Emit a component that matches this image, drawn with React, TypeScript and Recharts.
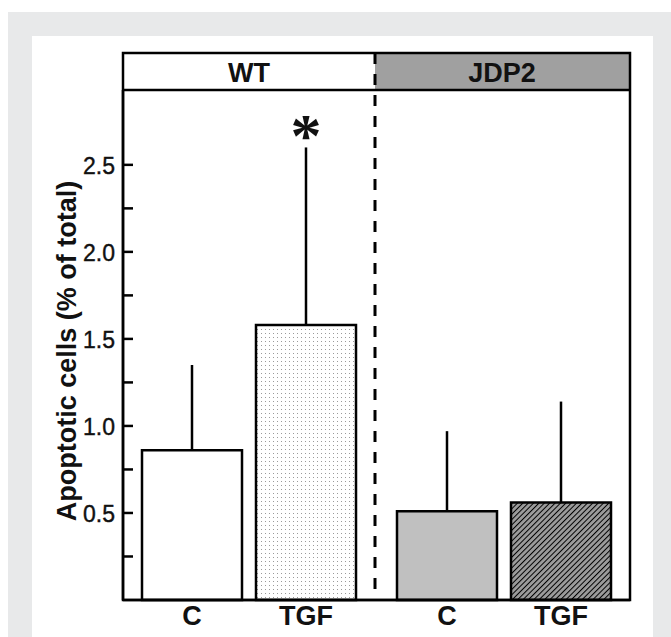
import React from 'react'
import { BarChart, Bar, XAxis, YAxis, ErrorBar, ReferenceDot, Cell } from 'recharts'

const groups = ['WT', 'JDP2']
const treatments = ['C', 'TGF']
const wtMeans = [0.86, 1.58]
const wtErrors = [0.49, 1.02]
const jdp2Means = [0.51, 0.56]
const jdp2Errors = [0.46, 0.58]
const wtStars = ['', '*']
const yTicks = [0.25, 0.5, 0.75, 1.0, 1.25, 1.5, 1.75, 2.0, 2.25, 2.5]
const yLabelTicks = [0.5, 1.0, 1.5, 2.0, 2.5]
const yMax = 2.93

const wtFills = ['#ffffff', 'url(#dots)']
const jdp2Fills = ['#c0c0c0', 'url(#hatch)']

const wtData = treatments.map((t, i) => ({ name: t, value: wtMeans[i], err: [0, wtErrors[i]] }))
const jdp2Data = treatments.map((t, i) => ({ name: t, value: jdp2Means[i], err: [0, jdp2Errors[i]] }))

const font = '"Liberation Sans", Arial, Helvetica, sans-serif'

const YTick = (props: any) => {
  const { x, y, payload } = props
  const v = payload.value
  return (
    <g>
      <line x1={x + 8} x2={x + 18} y1={y} y2={y} stroke="#000" strokeWidth={2.5} />
      {yLabelTicks.includes(v) && (
        <text x={x} y={y + 1} textAnchor="end" dominantBaseline="central" fontSize={23} fill="#111"
          stroke="#111" strokeWidth={0.4}>
          {v.toFixed(1)}
        </text>
      )}
    </g>
  )
}

const XTick = (props: any) => {
  const { x, y, payload } = props
  return (
    <text x={x} y={y + 25} textAnchor="middle" fontSize={27} fontWeight="bold" fill="#111">
      {payload.value}
    </text>
  )
}

const YLabel = (props: any) => {
  const vb = props.viewBox || { x: 0, y: 90, width: 123, height: 510 }
  const cx = vb.x + 67
  const cy = vb.y + vb.height / 2 + 6
  return (
    <text
      x={cx}
      y={cy}
      transform={`rotate(-90 ${cx} ${cy})`}
      textAnchor="middle"
      dominantBaseline="central"
      fontSize={27}
      fontWeight="bold"
      fill="#111"
    >
      Apoptotic cells (% of total)
    </text>
  )
}

const Star = (props: any) => (
  <text x={props.cx} y={props.cy + 9} textAnchor="middle" fontSize={62} fontWeight="bold"
    fontFamily='"Liberation Serif", "Times New Roman", serif' fill="#111">
    *
  </text>
)

export default function App() {
  return (
    <div style={{ position: 'absolute', left: 0, top: 0, width: 671, height: 637, background: '#fff', fontFamily: font }}>
      <svg width={0} height={0} style={{ position: 'absolute' }}>
        <defs>
          <pattern id="dots" width={4} height={4} patternUnits="userSpaceOnUse">
            <rect width={4} height={4} fill="#fff" />
            <rect x={1} y={1} width={1} height={1} fill="#9a9a9a" />
          </pattern>
          <pattern id="hatch" width={3.8} height={3.8} patternUnits="userSpaceOnUse" patternTransform="rotate(45)">
            <rect width={3.8} height={3.8} fill="#9c9c9c" />
            <line x1={0} y1={0} x2={0} y2={3.8} stroke="#000" strokeWidth={2} />
          </pattern>
        </defs>
      </svg>
      <div style={{ position: 'absolute', left: 8, top: 12, width: 663, height: 625, background: '#e8e9ea' }} />
      <div style={{ position: 'absolute', left: 32, top: 36, width: 621, height: 601, background: '#fff' }} />

      <div style={{ position: 'absolute', left: 0, top: 0 }}>
        <BarChart width={375} height={637} data={wtData} margin={{ top: 90, right: 0, bottom: 0, left: 0 }}>
          <YAxis
            width={123}
            domain={[0, yMax]}
            ticks={yTicks}
            tick={<YTick />}
            tickLine={false}
            tickSize={0}
            tickMargin={8}
            axisLine={{ stroke: '#000', strokeWidth: 2.5 }}
            label={<YLabel />}
          />
          <XAxis
            dataKey="name"
            padding={{ left: 12, right: 12 }}
            height={37}
            tickLine={false}
            tickSize={0}
            tickMargin={0}
            tick={<XTick />}
            axisLine={{ stroke: '#000', strokeWidth: 2.5 }}
          />
          <Bar dataKey="value" barSize={100} stroke="#000" strokeWidth={2.5} isAnimationActive={false}>
            {wtData.map((d, i) => (
              <Cell key={d.name} fill={wtFills[i]} />
            ))}
            <ErrorBar dataKey="err" width={0} stroke="#000" strokeWidth={2.5} direction="y" isAnimationActive={false} />
          </Bar>
          {wtStars.map((s, i) =>
            s ? <ReferenceDot key={i} x={treatments[i]} y={wtMeans[i] + wtErrors[i]} r={1} shape={<Star />} /> : null
          )}
        </BarChart>
      </div>

      <div style={{ position: 'absolute', left: 375, top: 0 }}>
        <BarChart width={255} height={637} data={jdp2Data} margin={{ top: 90, right: 0, bottom: 0, left: 0 }}>
          <YAxis hide domain={[0, yMax]} />
          <XAxis
            dataKey="name"
            padding={{ left: 15, right: 12 }}
            height={37}
            tickLine={false}
            tickSize={0}
            tickMargin={0}
            tick={<XTick />}
            axisLine={{ stroke: '#000', strokeWidth: 2.5 }}
          />
          <Bar dataKey="value" barSize={100} stroke="#000" strokeWidth={2.5} isAnimationActive={false}>
            {jdp2Data.map((d, i) => (
              <Cell key={d.name} fill={jdp2Fills[i]} />
            ))}
            <ErrorBar dataKey="err" width={0} stroke="#000" strokeWidth={2.5} direction="y" isAnimationActive={false} />
          </Bar>
        </BarChart>
      </div>

      <svg width={671} height={637} style={{ position: 'absolute', left: 0, top: 0, pointerEvents: 'none' }}>
        <rect x={375} y={53} width={255} height={37} fill="#a0a0a0" />
        <rect x={123} y={53} width={507} height={547} fill="none" stroke="#000" strokeWidth={2.5} />
        <line x1={123} x2={630} y1={90} y2={90} stroke="#000" strokeWidth={2.5} />
        <line x1={375} x2={375} y1={53} y2={600} stroke="#000" strokeWidth={3} strokeDasharray="11 10" />
        <text x={249} y={82} textAnchor="middle" fontSize={27} fontWeight="bold" fill="#111">{groups[0]}</text>
        <text x={502} y={82} textAnchor="middle" fontSize={27} fontWeight="bold" fill="#111">{groups[1]}</text>
      </svg>
    </div>
  )
}
